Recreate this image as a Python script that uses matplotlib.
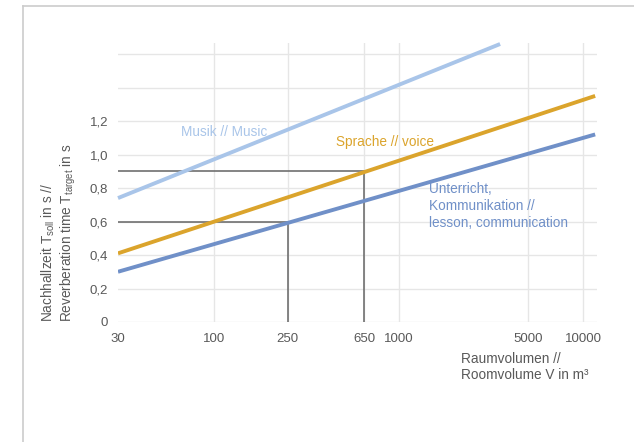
import numpy as np
import matplotlib
matplotlib.use("Agg")
import matplotlib.pyplot as plt
from matplotlib.lines import Line2D

plt.rcParams['font.family'] = ['Liberation Sans', 'DejaVu Sans']
plt.rcParams['mathtext.fontset'] = 'custom'
plt.rcParams['mathtext.rm'] = 'Liberation Sans'

# data (room volume in m³, reverberation time in s)
volume_musik = [30, 3540]
t_musik = [0.74, 1.66]
volume_sprache = [30, 11600]
t_sprache = [0.41, 1.35]
volume_unterricht = [30, 11600]
t_unterricht = [0.30, 1.12]

# reference examples
ref_volumes = [250, 650]
ref_times = [0.6, 0.9]

x_ticks = [30, 100, 250, 650, 1000, 5000, 10000]
x_tick_labels = ['30', '100', '250', '650', '1000', '5000', '10000']
y_grid = [0, 0.2, 0.4, 0.6, 0.8, 1.0, 1.2, 1.4, 1.6]
y_ticks = [0, 0.2, 0.4, 0.6, 0.8, 1.0, 1.2]
y_tick_labels = ['0', '0,2', '0,4', '0,6', '0,8', '1,0', '1,2']

c_musik = '#a9c5e9'
c_sprache = '#dba42c'
c_unterricht = '#7090c8'
c_text = '#595959'
c_grid = '#e6e6e6'
c_ref = '#707070'

fig = plt.figure(figsize=(6.34, 4.42), dpi=100)
ax = fig.add_axes([118 / 634, 1 - 322 / 442, (597 - 118) / 634, (322 - 43) / 442])

ax.set_xscale('log')
ax.set_xlim(30, 11870)
ax.set_ylim(0, 1.666)

# grid
for y in y_grid:
    ax.axhline(y, color=c_grid, lw=1.0, zorder=0)
for x in x_ticks[1:]:
    ax.axvline(x, color=c_grid, lw=1.0, zorder=0)

# reference lines
for v, t in zip(ref_volumes, ref_times):
    ax.plot([30, v], [t, t], color=c_ref, lw=1.2, zorder=1, solid_capstyle='butt')
    ax.plot([v, v], [0, t], color=c_ref, lw=1.2, zorder=1, solid_capstyle='butt')

ax.plot(volume_musik, t_musik, color=c_musik, lw=2.8, zorder=2, solid_capstyle='butt', clip_on=False)
ax.plot(volume_sprache, t_sprache, color=c_sprache, lw=2.8, zorder=2, solid_capstyle='butt')
ax.plot(volume_unterricht, t_unterricht, color=c_unterricht, lw=2.8, zorder=2, solid_capstyle='butt')

ax.text(66, 1.136, 'Musik // Music', color=c_musik, fontsize=9.8, va='center', ha='left')
ax.text(454, 1.076, 'Sprache // voice', color=c_sprache, fontsize=9.8, va='center', ha='left')
ax.text(1450, 0.693, 'Unterricht,\nKommunikation //\nlesson, communication',
        color=c_unterricht, fontsize=9.8, va='center', ha='left', linespacing=1.25)

ax.set_xticks(x_ticks)
ax.set_xticklabels(x_tick_labels)
ax.xaxis.set_minor_locator(matplotlib.ticker.NullLocator())
ax.set_yticks(y_ticks)
ax.set_yticklabels(y_tick_labels)
ax.tick_params(axis='both', length=0, labelsize=9.5, labelcolor=c_text)
ax.tick_params(axis='x', pad=8)
ax.tick_params(axis='y', pad=7)
for s in ax.spines.values():
    s.set_visible(False)

fig.text(59 / 634, 1 - 322 / 442,
         'Nachhallzeit T$_{\\mathregular{soll}}$ in s //\nReverberation time T$_{\\mathregular{target}}$ in s',
         rotation=90, ha='center', va='bottom', fontsize=9.8, color=c_text,
         linespacing=1.1, multialignment='left')

fig.text(461 / 634, 1 - 367 / 442, 'Raumvolumen //\nRoomvolume V in m³',
         ha='left', va='center', fontsize=9.8, color=c_text, linespacing=1.25)

# outer frame
fig.add_artist(Line2D([22.5 / 634, 1], [1 - 5.5 / 442, 1 - 5.5 / 442], color='#cccccc', lw=1.2))
fig.add_artist(Line2D([22.5 / 634, 22.5 / 634], [0, 1 - 5.5 / 442], color='#cccccc', lw=1.2))

fig.savefig('out.png', dpi=100)
